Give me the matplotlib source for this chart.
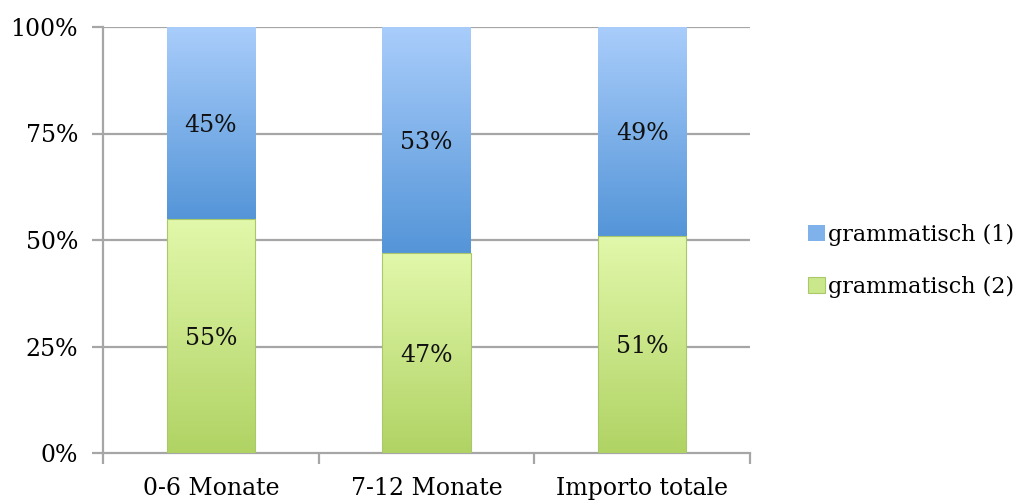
import numpy as np
import matplotlib
matplotlib.use("Agg")
import matplotlib.pyplot as plt
from matplotlib.patches import Patch
from matplotlib.colors import LinearSegmentedColormap

categories = ["0-6 Monate", "7-12 Monate", "Importo totale"]
grammatisch_2 = [55, 47, 51]   # bottom segment (green)
grammatisch_1 = [45, 53, 49]   # top segment (blue)
y_ticks = [0, 25, 50, 75, 100]
y_tick_labels = ["0%", "25%", "50%", "75%", "100%"]

FONT = "DejaVu Serif"
FS = 17

blue_cmap = LinearSegmentedColormap.from_list("blue", ["#5495d8", "#a9cdfb"])
green_cmap = LinearSegmentedColormap.from_list("green", ["#b0d364", "#e2f8ab"])

fig = plt.figure(figsize=(10.16, 5.0), dpi=100)
ax = fig.add_axes([103 / 1016, 47 / 500, 647 / 1016, 426 / 500])

x = np.arange(len(categories))
width = 0.41

def gradient_fill(bar, cmap):
    x0, y0 = bar.get_x(), bar.get_y()
    w, h = bar.get_width(), bar.get_height()
    grad = np.linspace(0, 1, 256).reshape(-1, 1)
    im = ax.imshow(grad, cmap=cmap, origin="lower", aspect="auto",
                   extent=[x0, x0 + w, y0, y0 + h], zorder=3,
                   interpolation="bilinear")
    im.set_clip_path(bar)

green_bars = ax.bar(x, grammatisch_2, width, color="none", zorder=3)
blue_bars = ax.bar(x, grammatisch_1, width, bottom=grammatisch_2,
                   color="none", zorder=3)

for b in green_bars:
    gradient_fill(b, green_cmap)
for b in blue_bars:
    gradient_fill(b, blue_cmap)

# thin edge along the green segments
for b in green_bars:
    b.set_edgecolor("#a9c86a")
    b.set_linewidth(0.8)
    b.set_zorder(4)

for i in range(len(categories)):
    g, bl = grammatisch_2[i], grammatisch_1[i]
    ax.text(x[i], g / 2, f"{g}%", ha="center", va="center_baseline",
            fontsize=FS, family=FONT, color="#111111", zorder=5)
    ax.text(x[i], g + bl / 2, f"{bl}%", ha="center", va="center_baseline",
            fontsize=FS, family=FONT, color="#111111", zorder=5)

ax.set_xlim(-0.5, len(categories) - 0.5)
ax.set_ylim(0, 100)
ax.set_yticks(y_ticks)
ax.set_yticklabels(y_tick_labels, family=FONT, fontsize=FS)

grid_color = "#a6a6a6"
for yv in y_ticks[1:]:
    ax.axhline(yv, color=grid_color, lw=1.6, zorder=1)

ax.set_xticks(np.arange(len(categories) + 1) - 0.5, minor=False)
ax.set_xticklabels([])
ax.set_xticks(x, minor=True)
ax.set_xticklabels(categories, minor=True, family=FONT, fontsize=FS)
ax.tick_params(axis="x", which="minor", length=0, pad=17)
ax.tick_params(axis="x", which="major", length=8, width=1.6, color=grid_color)
ax.tick_params(axis="y", length=8, width=1.6, color=grid_color, pad=10)

for side in ["top", "right"]:
    ax.spines[side].set_visible(False)
for side in ["left", "bottom"]:
    ax.spines[side].set_color(grid_color)
    ax.spines[side].set_linewidth(1.6)

handles = [Patch(facecolor="#7fb2ea", edgecolor="none"),
           Patch(facecolor="#cbe78c", edgecolor="#a9c86a", lw=0.8)]
fig.legend(handles, ["grammatisch (1)", "grammatisch (2)"],
           loc="center left", bbox_to_anchor=(799 / 1016, 1 - 261 / 500),
           frameon=False, prop={"family": FONT, "size": 16},
           handlelength=0.75, handleheight=0.75, handletextpad=0.15,
           labelspacing=1.35, borderaxespad=0)

fig.savefig("out.png", dpi=100, facecolor="white")
